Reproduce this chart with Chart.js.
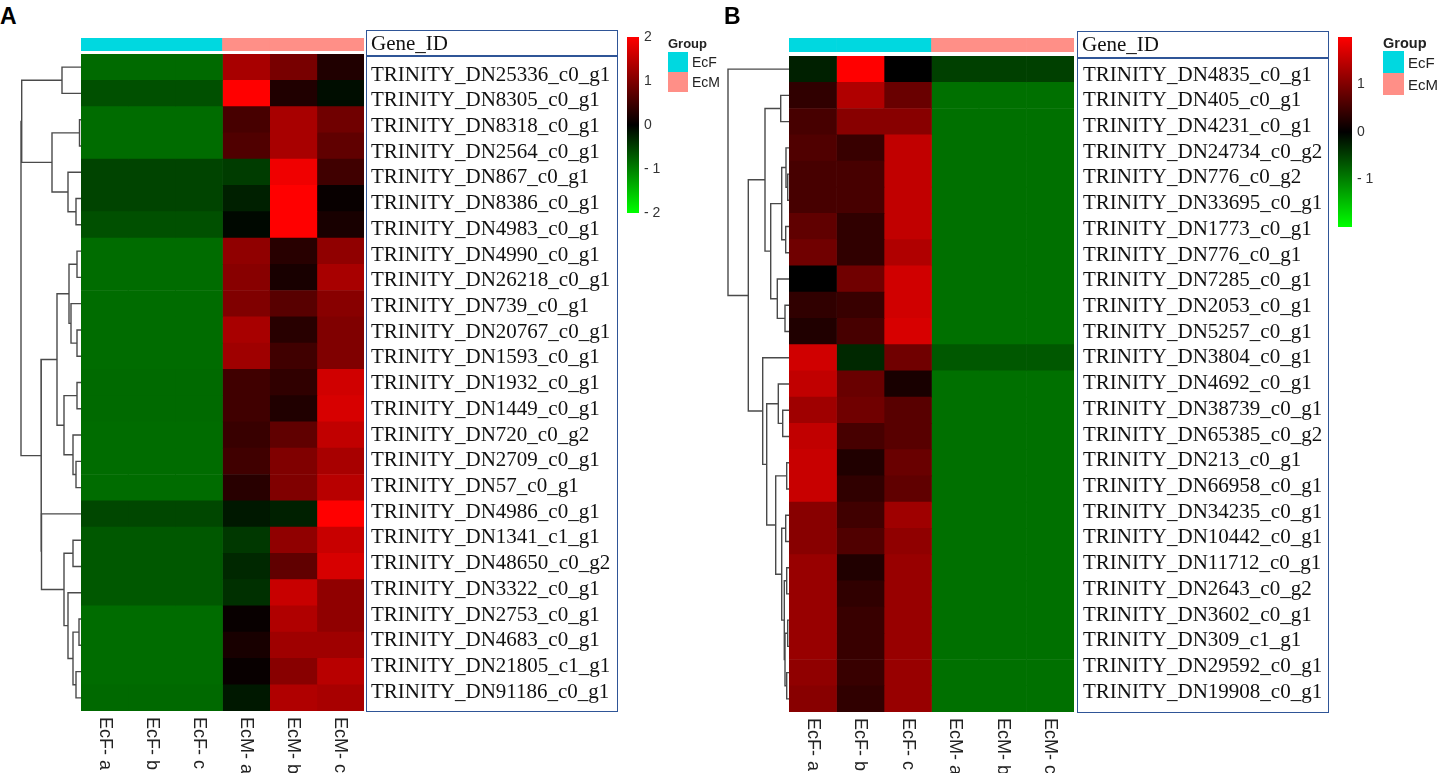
<!DOCTYPE html>
<html><head><meta charset="utf-8">
<script src="https://cdn.jsdelivr.net/npm/chart.js@4.4.0/dist/chart.umd.min.js"></script>
<style>
html,body{margin:0;padding:0;background:#fff;}
#root{position:relative;width:1438px;height:773px;overflow:hidden;font-family:"Liberation Sans",Arial,sans-serif;}
#root canvas{position:absolute;}
.box{position:absolute;border:1.5px solid #2F5597;box-sizing:border-box;}
.serif{position:absolute;font-family:"Liberation Serif","Times New Roman",serif;font-size:21px;line-height:21px;color:#111;white-space:nowrap;}
.letter{position:absolute;font-weight:bold;font-size:23px;line-height:23px;color:#000;}
.lgtitle{position:absolute;font-weight:bold;color:#222;white-space:nowrap;}
.lgsw{position:absolute;}
.lgtxt{position:absolute;color:#222;white-space:nowrap;}
</style></head><body><div id="root"></div>
<script>
// ---------------- DATA ----------------
const columns = ['EcF- a','EcF- b','EcF- c','EcM- a','EcM- b','EcM- c'];
const groups = ['EcF','EcF','EcF','EcM','EcM','EcM'];
const groupNames = ['EcF','EcM'];
const groupColors = ['#00D8E0','#FF8F87'];
const colorMin = -2, colorMax = 2;
const scaleTicksA = [2,1,0,-1,-2];
const scaleTicksB = [1,0,-1];

const genesA = ['TRINITY_DN25336_c0_g1','TRINITY_DN8305_c0_g1','TRINITY_DN8318_c0_g1','TRINITY_DN2564_c0_g1','TRINITY_DN867_c0_g1','TRINITY_DN8386_c0_g1','TRINITY_DN4983_c0_g1','TRINITY_DN4990_c0_g1','TRINITY_DN26218_c0_g1','TRINITY_DN739_c0_g1','TRINITY_DN20767_c0_g1','TRINITY_DN1593_c0_g1','TRINITY_DN1932_c0_g1','TRINITY_DN1449_c0_g1','TRINITY_DN720_c0_g2','TRINITY_DN2709_c0_g1','TRINITY_DN57_c0_g1','TRINITY_DN4986_c0_g1','TRINITY_DN1341_c1_g1','TRINITY_DN48650_c0_g2','TRINITY_DN3322_c0_g1','TRINITY_DN2753_c0_g1','TRINITY_DN4683_c0_g1','TRINITY_DN21805_c1_g1','TRINITY_DN91186_c0_g1'];
const valuesA = [
 [-0.83,-0.83,-0.83, 1.32, 0.94, 0.25],
 [-0.63,-0.63,-0.63, 2.00, 0.25,-0.10],
 [-0.85,-0.85,-0.85, 0.56, 1.32, 0.88],
 [-0.85,-0.85,-0.85, 0.63, 1.32, 0.75],
 [-0.53,-0.53,-0.53,-0.47, 1.88, 0.50],
 [-0.53,-0.53,-0.53,-0.25, 2.00, 0.06],
 [-0.63,-0.63,-0.63,-0.06, 2.00, 0.19],
 [-0.85,-0.85,-0.85, 1.13, 0.31, 1.13],
 [-0.85,-0.85,-0.85, 1.07, 0.19, 1.32],
 [-0.85,-0.85,-0.85, 1.00, 0.69, 1.07],
 [-0.85,-0.85,-0.85, 1.32, 0.31, 1.00],
 [-0.85,-0.85,-0.85, 1.25, 0.50, 1.00],
 [-0.83,-0.83,-0.83, 0.50, 0.38, 1.63],
 [-0.83,-0.83,-0.83, 0.50, 0.25, 1.69],
 [-0.85,-0.85,-0.85, 0.44, 0.75, 1.51],
 [-0.85,-0.85,-0.85, 0.50, 1.00, 1.32],
 [-0.85,-0.85,-0.85, 0.31, 1.00, 1.44],
 [-0.56,-0.56,-0.56,-0.19,-0.25, 2.00],
 [-0.69,-0.69,-0.69,-0.44, 1.13, 1.57],
 [-0.69,-0.69,-0.69,-0.31, 0.75, 1.69],
 [-0.69,-0.69,-0.69,-0.38, 1.57, 1.13],
 [-0.85,-0.85,-0.85, 0.06, 1.38, 1.13],
 [-0.85,-0.85,-0.85, 0.19, 1.25, 1.25],
 [-0.85,-0.85,-0.85, 0.06, 1.07, 1.44],
 [-0.82,-0.82,-0.82,-0.19, 1.38, 1.32]
];
// hclust-style merges: negative = leaf (row -id-1), positive = earlier merge (1-based); third = height
const dendroA = [
 [-1,-2,19],[-3,-4,1.5],[-6,-7,5],[-5,3,13],[2,4,29],[1,5,59.3],
 [-8,-9,4],[-11,-12,4],[-10,8,10],[7,9,12],[-13,-14,4],[-16,-17,5],
 [-15,12,8],[11,13,17],[10,14,24],[-19,-20,8],[-22,-23,2],[-24,-25,5],
 [17,18,8],[-21,19,13],[16,20,17],[-18,21,39.5],[15,22,40],[6,23,60]
];

const genesB = ['TRINITY_DN4835_c0_g1','TRINITY_DN405_c0_g1','TRINITY_DN4231_c0_g1','TRINITY_DN24734_c0_g2','TRINITY_DN776_c0_g2','TRINITY_DN33695_c0_g1','TRINITY_DN1773_c0_g1','TRINITY_DN776_c0_g1','TRINITY_DN7285_c0_g1','TRINITY_DN2053_c0_g1','TRINITY_DN5257_c0_g1','TRINITY_DN3804_c0_g1','TRINITY_DN4692_c0_g1','TRINITY_DN38739_c0_g1','TRINITY_DN65385_c0_g2','TRINITY_DN213_c0_g1','TRINITY_DN66958_c0_g1','TRINITY_DN34235_c0_g1','TRINITY_DN10442_c0_g1','TRINITY_DN11712_c0_g1','TRINITY_DN2643_c0_g2','TRINITY_DN3602_c0_g1','TRINITY_DN309_c1_g1','TRINITY_DN29592_c0_g1','TRINITY_DN19908_c0_g1'];
const valuesB = [
 [-0.25, 2.00, 0.00,-0.50,-0.50,-0.50],
 [ 0.38, 1.38, 0.82,-0.88,-0.88,-0.88],
 [ 0.56, 1.07, 1.07,-0.88,-0.88,-0.88],
 [ 0.63, 0.44, 1.51,-0.88,-0.88,-0.88],
 [ 0.56, 0.56, 1.51,-0.88,-0.88,-0.88],
 [ 0.56, 0.56, 1.51,-0.88,-0.88,-0.88],
 [ 0.75, 0.38, 1.51,-0.88,-0.88,-0.88],
 [ 0.88, 0.38, 1.38,-0.88,-0.88,-0.88],
 [ 0.00, 0.88, 1.63,-0.88,-0.88,-0.88],
 [ 0.38, 0.44, 1.63,-0.88,-0.88,-0.88],
 [ 0.25, 0.56, 1.69,-0.88,-0.88,-0.88],
 [ 1.63,-0.31, 0.88,-0.69,-0.69,-0.69],
 [ 1.51, 0.82, 0.19,-0.88,-0.88,-0.88],
 [ 1.25, 0.88, 0.69,-0.88,-0.88,-0.88],
 [ 1.51, 0.56, 0.69,-0.88,-0.88,-0.88],
 [ 1.57, 0.25, 0.82,-0.88,-0.88,-0.88],
 [ 1.57, 0.38, 0.75,-0.88,-0.88,-0.88],
 [ 1.07, 0.50, 1.25,-0.88,-0.88,-0.88],
 [ 1.07, 0.63, 1.13,-0.88,-0.88,-0.88],
 [ 1.19, 0.25, 1.19,-0.88,-0.88,-0.88],
 [ 1.19, 0.38, 1.19,-0.88,-0.88,-0.88],
 [ 1.19, 0.44, 1.19,-0.88,-0.88,-0.88],
 [ 1.19, 0.44, 1.19,-0.88,-0.88,-0.88],
 [ 1.13, 0.44, 1.19,-0.88,-0.88,-0.88],
 [ 1.07, 0.38, 1.19,-0.88,-0.88,-0.88]
];
const dendroB = [
 [-2,-3,8.3],[-5,-6,1.3],[-4,2,3],[-7,-8,3.3],[3,4,7.3],[-10,-11,4],
 [-9,6,11.7],[5,7,18.3],[1,8,24],[-14,-15,6.3],[-13,10,10.7],[-16,-17,2.3],
 [-18,-19,3.3],[-20,-21,2.3],[-22,-23,1.3],[-24,-25,2.3],[15,16,4],[14,17,4.7],
 [13,18,7.3],[12,19,13.3],[11,20,22.3],[-12,21,26.3],[9,22,40.7],[-1,23,61]
];

// ---------------- LAYOUT ----------------
const layoutA = {
  letter:'A', letterX:0, letterY:5,
  dendroLeft:14, heatLeft:81, heatRight:364, heatTop:54, heatBottom:711,
  annotTop:38, annotBottom:51,
  boxLeft:366, boxRight:618, boxTop:30, headBottom:56, bodyTop:56, boxBottom:712,
  labelFirst:75, labelStep:25.72, labelPad:7,
  cbLeft:627, cbRight:639, cbTop:37, cbBottom:213, cbTicks:scaleTicksA,
  lgX:668, lgY:36, lgFont:13, lgSw:[20,20], lgTxtFont:14,
  colLabelGap:6
};
const layoutB = {
  letter:'B', letterX:724, letterY:5,
  dendroLeft:720, heatLeft:789, heatRight:1074, heatTop:56, heatBottom:712,
  annotTop:38, annotBottom:52,
  boxLeft:1077, boxRight:1329, boxTop:31, headBottom:58, bodyTop:58, boxBottom:713,
  labelFirst:75, labelStep:25.72, labelPad:9,
  cbLeft:1338, cbRight:1352, cbTop:37, cbBottom:227, cbTicks:scaleTicksB,
  lgX:1383, lgY:35, lgFont:14.5, lgSw:[21,22], lgTxtFont:15,
  colLabelGap:6
};

const root = document.getElementById('root');
function colorFor(v){
  const t = Math.max(-1, Math.min(1, v < 0 ? v/Math.abs(colorMin) : v/colorMax));
  const c = Math.round(255*Math.abs(t));
  return t >= 0 ? `rgb(${c},0,0)` : `rgb(0,${c},0)`;
}
function makeCanvas(left, top, w, h){
  const c = document.createElement('canvas');
  c.width = w; c.height = h;
  c.style.left = left+'px'; c.style.top = top+'px';
  c.style.width = w+'px'; c.style.height = h+'px';
  root.appendChild(c);
  return c;
}
function el(cls, css, text){
  const d = document.createElement('div');
  d.className = cls;
  Object.assign(d.style, css);
  if (text !== undefined) d.textContent = text;
  root.appendChild(d);
  return d;
}
function dendroSegments(merges){
  const pos = [], hgt = [];
  const get = id => id < 0 ? {y:-id-1, h:0} : {y:pos[id-1], h:hgt[id-1]};
  return merges.map(([a,b,h]) => {
    const A = get(a), B = get(b);
    pos.push((A.y+B.y)/2); hgt.push(h);
    return [{x:A.h,y:A.y},{x:h,y:A.y},{x:h,y:B.y},{x:B.h,y:B.y}];
  });
}
const noAxis = {display:false};
const base = {responsive:false, animation:false, devicePixelRatio:1,
  plugins:{legend:{display:false}, tooltip:{enabled:false}}, layout:{padding:0}};
const noEdgePad = (ax) => { ax.paddingTop = 0; ax.paddingBottom = 0; };

function buildPanel(L, genes, values, merges){
  const n = genes.length;
  const heatW = L.heatRight - L.heatLeft, heatH = L.heatBottom - L.heatTop;

  // panel letter
  el('letter', {left:L.letterX+'px', top:L.letterY+'px'}, L.letter);

  // dendrogram
  const dW = L.heatLeft - L.dendroLeft;
  const segs = dendroSegments(merges);
  new Chart(makeCanvas(L.dendroLeft, L.heatTop, dW, heatH), {
    type:'scatter',
    data:{datasets: segs.map(s => ({data:s, showLine:true, borderColor:'#4a4a4a', borderWidth:1.4,
      pointRadius:0, tension:0, clip:false}))},
    options:Object.assign({}, base, {
      scales:{
        x:{type:'linear', min:0, max:dW, reverse:true, display:false},
        y:{type:'linear', min:-0.5, max:n-0.5, reverse:true, display:false}
      }
    })
  });

  // annotation bar
  new Chart(makeCanvas(L.heatLeft, L.annotTop, heatW, L.annotBottom-L.annotTop), {
    type:'bar',
    data:{labels:columns, datasets:[{data:columns.map(() => 1),
      backgroundColor:groups.map(g => groupColors[groupNames.indexOf(g)]),
      borderWidth:0, barPercentage:1, categoryPercentage:1}]},
    options:Object.assign({}, base, {scales:{x:noAxis, y:{display:false, min:0, max:1}}})
  });

  // heatmap + gene labels + column labels
  const labelAreaW = L.boxRight - L.heatRight;
  const bottomPad = 62;
  const lblMin = -(L.labelFirst - L.heatTop)/L.labelStep;
  const lblMax = lblMin + heatH/L.labelStep;
  const textLabels = {
    id:'textLabels',
    afterDraw(chart){
      const ctx = chart.ctx, xs = chart.scales.x, yl = chart.scales.yl, area = chart.chartArea;
      ctx.save();
      // column labels, rotated clockwise
      ctx.font = '18px "Liberation Sans", Arial, sans-serif';
      ctx.fillStyle = '#222';
      ctx.textAlign = 'left'; ctx.textBaseline = 'middle';
      columns.forEach((c, j) => {
        ctx.save();
        ctx.translate(xs.getPixelForValue(j+0.5), area.bottom + L.colLabelGap);
        ctx.rotate(Math.PI/2);
        ctx.fillText(c, 0, 0);
        ctx.restore();
      });
      // gene ID labels
      ctx.font = '21px "Liberation Serif", "Times New Roman", serif';
      ctx.fillStyle = '#111';
      genes.forEach((g, i) => ctx.fillText(g, area.right + L.labelPad, yl.getPixelForValue(i)));
      ctx.restore();
    }
  };
  new Chart(makeCanvas(L.heatLeft, L.heatTop, heatW + labelAreaW, heatH + bottomPad), {
    type:'bar',
    data:{labels:genes, datasets:columns.map((c, j) => ({
      label:c, xAxisID:'x', yAxisID:'y', grouped:false,
      data:values.map(() => [j, j+1]),
      backgroundColor:values.map(r => colorFor(r[j])),
      borderWidth:0, barPercentage:1, categoryPercentage:1
    }))},
    options:Object.assign({}, base, {
      indexAxis:'y',
      layout:{padding:{top:0, right:labelAreaW, bottom:bottomPad}},
      scales:{
        x:{type:'linear', min:0, max:columns.length, display:false},
        y:{type:'category', display:false},
        yl:{type:'linear', reverse:true, offset:false, min:lblMin, max:lblMax, display:false}
      }
    }),
    plugins:[textLabels]
  });

  // gene id boxes
  el('box', {left:L.boxLeft+'px', top:L.boxTop+'px', width:(L.boxRight-L.boxLeft)+'px', height:(L.headBottom-L.boxTop)+'px'});
  el('box', {left:L.boxLeft+'px', top:L.bodyTop+'px', width:(L.boxRight-L.boxLeft)+'px', height:(L.boxBottom-L.bodyTop)+'px'});
  el('serif', {left:(L.boxLeft+5)+'px', top:(L.boxTop+2.5)+'px'}, 'Gene_ID');

  // colour scale
  const cbW = 60, padV = 12;
  new Chart(makeCanvas(L.cbLeft, L.cbTop - padV, cbW, (L.cbBottom-L.cbTop) + 2*padV), {
    type:'bar',
    data:{labels:[''], datasets:[{data:[[colorMin, colorMax]], borderWidth:0,
      barPercentage:1, categoryPercentage:1,
      backgroundColor:(ctx) => {
        const ch = ctx.chart, ys = ch.scales.y;
        if (!ys || !ch.chartArea) return '#000';
        const g = ch.ctx.createLinearGradient(0, ys.getPixelForValue(colorMax), 0, ys.getPixelForValue(colorMin));
        g.addColorStop(0, colorFor(colorMax));
        g.addColorStop((colorMax)/(colorMax-colorMin), colorFor(0));
        g.addColorStop(1, colorFor(colorMin));
        return g;
      }}]},
    options:Object.assign({}, base, {
      layout:{padding:{top:padV, bottom:padV}},
      scales:{
        x:{display:false},
        y:{type:'linear', position:'right', min:colorMin, max:colorMax,
          grid:{display:false, drawTicks:false}, border:{display:false},
          afterBuildTicks:(ax) => { ax.ticks = L.cbTicks.map(v => ({value:v})); },
          afterFit:(ax) => { ax.width = cbW - (L.cbRight - L.cbLeft); noEdgePad(ax); },
          ticks:{autoSkip:false, padding:5, color:'#333',
            font:{family:'"Liberation Sans", Arial, sans-serif', size:14},
            callback:(v) => v < 0 ? '- ' + Math.abs(v) : String(v)}
        }
      }
    })
  });

  // group legend
  el('lgtitle', {left:L.lgX+'px', top:L.lgY+'px', fontSize:L.lgFont+'px', lineHeight:(L.lgFont+2)+'px'}, 'Group');
  groupNames.forEach((g, i) => {
    const top = L.lgY + 16 + i*L.lgSw[1];
    el('lgsw', {left:L.lgX+'px', top:top+'px', width:L.lgSw[0]+'px', height:L.lgSw[1]+'px', background:groupColors[i]});
    el('lgtxt', {left:(L.lgX+L.lgSw[0]+4)+'px', top:(top + (L.lgSw[1]-L.lgTxtFont-2)/2)+'px', fontSize:L.lgTxtFont+'px', lineHeight:(L.lgTxtFont+2)+'px'}, g);
  });
}

buildPanel(layoutA, genesA, valuesA, dendroA);
buildPanel(layoutB, genesB, valuesB, dendroB);
</script></body></html>
